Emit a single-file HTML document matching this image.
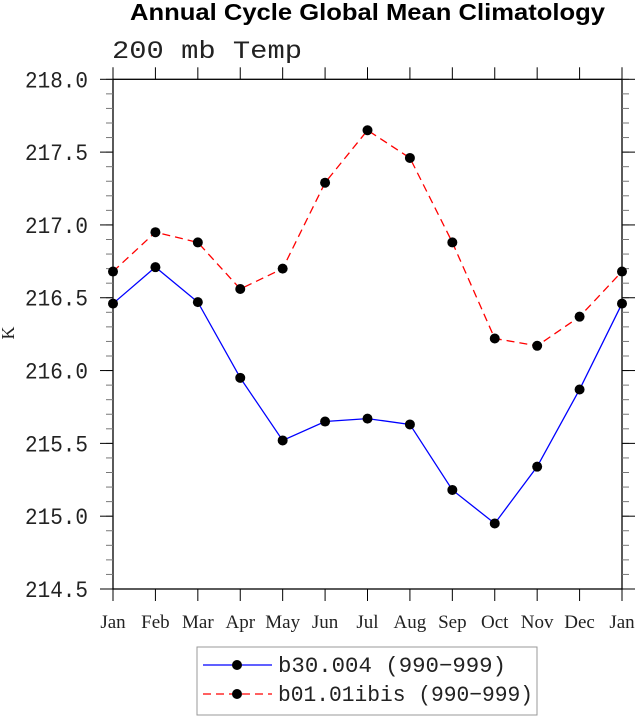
<!DOCTYPE html>
<html><head><meta charset="utf-8"><style>
body{margin:0;background:#fff;width:639px;height:716px;overflow:hidden}
svg text{font-family:"Liberation Serif","DejaVu Serif",serif;fill:#222}
</style></head><body>
<svg id="chart" width="639" height="716" xmlns="http://www.w3.org/2000/svg">
<text x="130" y="20" textLength="475" lengthAdjust="spacingAndGlyphs" style="font-family:'Liberation Sans',sans-serif;font-weight:bold;font-size:23px;fill:#000">Annual Cycle Global Mean Climatology</text>
<text x="112" y="58" textLength="190" lengthAdjust="spacingAndGlyphs" style="font-family:'Liberation Mono',monospace;font-size:25px">200 mb Temp</text>
<text transform="translate(14,333) rotate(-90)" text-anchor="middle" style="font-size:18px">K</text>
<g id="axes"></g><g id="series"></g>
<g>
<rect x="197" y="647" width="340" height="68" fill="#fff" stroke="#999" stroke-width="1"/>
<line x1="203" y1="665" x2="272" y2="665" stroke="#0000ff" stroke-width="1.2"/>
<circle cx="237" cy="665" r="5" fill="#000"/>
<text x="278" y="672" textLength="228" lengthAdjust="spacingAndGlyphs" style="font-family:'Liberation Mono',monospace;font-size:22px">b30.004 (990−999)</text>
<line x1="203" y1="694" x2="272" y2="694" stroke="#ff0000" stroke-width="1.2" stroke-dasharray="8,5"/>
<circle cx="237" cy="694" r="5" fill="#000"/>
<text x="278" y="701" textLength="255" lengthAdjust="spacingAndGlyphs" style="font-family:'Liberation Mono',monospace;font-size:22px">b01.01ibis (990−999)</text>
</g>
</svg>
<script>
const months=["Jan","Feb","Mar","Apr","May","Jun","Jul","Aug","Sep","Oct","Nov","Dec","Jan"];
const blueValues=[216.46,216.71,216.47,215.95,215.52,215.65,215.67,215.63,215.18,214.95,215.34,215.87,216.46];
const redValues=[216.68,216.95,216.88,216.56,216.70,217.29,217.65,217.46,216.88,216.22,216.17,216.37,216.68];
const yTicks=[214.5,215.0,215.5,216.0,216.5,217.0,217.5,218.0];
const L=113,R=622,T=79.3,B=589,ymin=214.5,ymax=218.0;
const NS="http://www.w3.org/2000/svg";
const xs=i=>L+i*(R-L)/(months.length-1);
const ys=v=>B-(v-ymin)/(ymax-ymin)*(B-T);
const ax=document.getElementById('axes'),se=document.getElementById('series');
function mk(t,a,p){const e=document.createElementNS(NS,t);for(const k in a)e.setAttribute(k,a[k]);p.appendChild(e);return e;}
const fr=mk('rect',{x:L,y:T,width:R-L,height:B-T,fill:'none',stroke:'#000','stroke-width':1.3},ax);


months.forEach((m,i)=>{const x=xs(i);
mk('line',{x1:x,y1:B,x2:x,y2:B+12,stroke:'#000'},ax);
mk('line',{x1:x,y1:T,x2:x,y2:T-12,stroke:'#000'},ax);
const t=mk('text',{x:x,y:628,'text-anchor':'middle','font-size':19},ax);t.textContent=m;

});
for(let v=ymin;v<=ymax+1e-6;v+=0.1){const y=ys(v);
mk('line',{x1:L,y1:y,x2:L-7,y2:y,stroke:'#777'},ax);mk('line',{x1:R,y1:y,x2:R+7,y2:y,stroke:'#777'},ax);}
yTicks.forEach(v=>{const y=ys(v);
mk('line',{x1:L,y1:y,x2:L-13,y2:y,stroke:'#000'},ax);mk('line',{x1:R,y1:y,x2:R+13,y2:y,stroke:'#000'},ax);
const t=mk('text',{x:25,y:y+8,textLength:63,lengthAdjust:'spacingAndGlyphs','font-size':23,style:"font-family:'Liberation Mono',monospace"},ax);t.textContent=v.toFixed(1);

});
function draw(vals,col,dash,name){
const pl=mk('polyline',{points:vals.map((v,i)=>xs(i)+','+ys(v)).join(' '),fill:'none',stroke:col,'stroke-width':1.3,'stroke-dasharray':dash},se);


vals.forEach((v,i)=>{const c=mk('circle',{cx:xs(i),cy:ys(v),r:5,fill:'#000'},se);

});}
draw(blueValues,'#0000ff','none','b30-series');
draw(redValues,'#ff0000','8,5','b01-series');
</script>
</body></html>
